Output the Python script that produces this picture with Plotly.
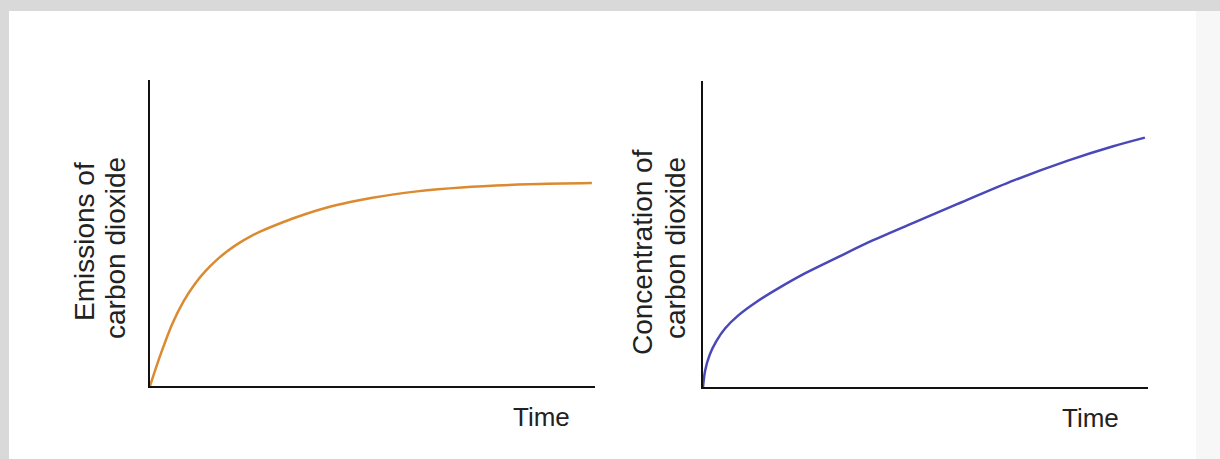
import plotly.graph_objects as go

W, H = 1220, 459

# Emissions of carbon dioxide (left panel)
emis_time = [0, 2.5, 5, 7.5, 10, 12.5, 15, 17.5, 20, 22.5, 25, 30, 35, 40, 45, 50, 60, 70, 85, 99.3]
emis_value = [0, 10.8, 20.3, 27.6, 33.2, 37.6, 41.2, 44.2, 46.7, 48.8, 50.6, 53.6, 56.2, 58.4,
              60.1, 61.5, 63.6, 64.9, 65.9, 66.3]

# Concentration of carbon dioxide (right panel)
conc_time = [0, 0.5, 1.5, 3, 5, 8, 12, 17, 23, 30, 38, 47, 58, 70, 82, 92, 99.3]
conc_value = [0, 5.5, 10.5, 15, 19.2, 23.5, 27.8, 32.3, 37.2, 42.2, 47.8, 53.5, 60.3, 67.6, 74.0, 78.6, 81.5]

x_label = "Time"
left_ylabel = ["Emissions of", "carbon dioxide"]
right_ylabel = ["Concentration of", "carbon dioxide"]

fig = go.Figure()
fig.add_trace(go.Scatter(x=emis_time, y=emis_value, mode="lines",
                         line=dict(color="#dc8a30", width=2.5, shape="spline", smoothing=1.0),
                         xaxis="x", yaxis="y", showlegend=False, hoverinfo="skip"))
fig.add_trace(go.Scatter(x=conc_time, y=conc_value, mode="lines",
                         line=dict(color="#4a48b8", width=2.5, shape="spline", smoothing=1.0),
                         xaxis="x2", yaxis="y2", showlegend=False, hoverinfo="skip"))

def px(x):
    return x / W

def py(y):
    return 1 - y / H

axis_common = dict(range=[0, 100], showline=True, linecolor="#111111", linewidth=2,
                   showgrid=False, zeroline=False, showticklabels=False, ticks="",
                   fixedrange=True)

def label(text, x, y, angle=-90, size=28):
    return dict(text=text, xref="paper", yref="paper", x=px(x), y=py(y),
                textangle=angle, showarrow=False, xanchor="center", yanchor="middle",
                font=dict(size=size))

fig.update_layout(
    width=W, height=H,
    margin=dict(l=0, r=0, t=0, b=0),
    paper_bgcolor="#d9d9d9",
    plot_bgcolor="rgba(0,0,0,0)",
    font=dict(family="Liberation Sans, Arial, sans-serif", color="#222222", size=26),
    xaxis=dict(domain=[px(150), px(595)], anchor="y", **axis_common),
    yaxis=dict(domain=[py(386), py(80)], anchor="x", **axis_common),
    xaxis2=dict(domain=[px(703), px(1148)], anchor="y2", **axis_common),
    yaxis2=dict(domain=[py(387), py(81)], anchor="x2", **axis_common),
    shapes=[
        dict(type="rect", xref="paper", yref="paper", x0=px(9), x1=px(1196), y0=0, y1=py(11),
             fillcolor="#ffffff", line=dict(width=0), layer="below"),
        dict(type="rect", xref="paper", yref="paper", x0=px(1196), x1=1, y0=0, y1=py(11),
             fillcolor="#f7f7f7", line=dict(width=0), layer="below"),
    ],
    annotations=[
        label(left_ylabel[0], 84, 242),
        label(left_ylabel[1], 115, 248),
        label(right_ylabel[0], 642, 252),
        label(right_ylabel[1], 675, 248),
        label(x_label, 541, 417, angle=0, size=26),
        label(x_label, 1090, 418, angle=0, size=26),
    ],
)

fig.write_html("out.html", config={"displayModeBar": False},
               post_script="document.body.style.margin='0';")
